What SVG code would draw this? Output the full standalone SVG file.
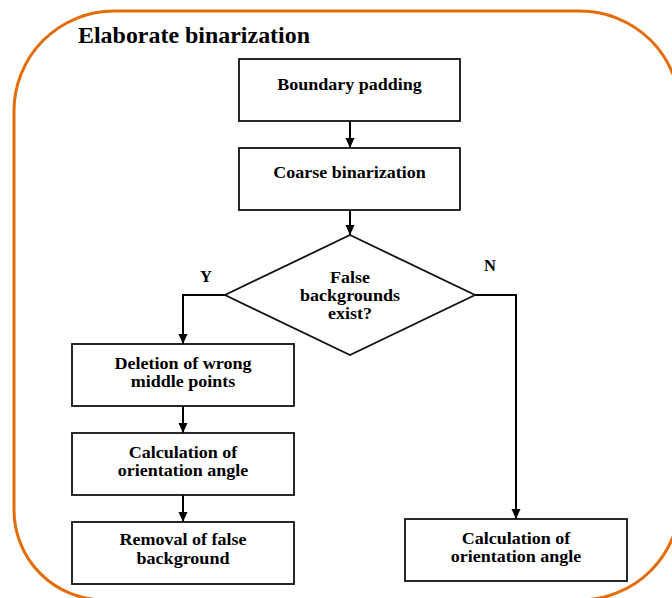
<svg xmlns="http://www.w3.org/2000/svg" width="672" height="598" viewBox="0 0 672 598">
<defs>
<style>
.t{font-family:"Liberation Serif","Times New Roman",serif;font-weight:bold;font-size:16.5px;fill:#000;text-anchor:middle}
.box{fill:#fff;stroke:#111;stroke-width:1.8}
.c{fill:none;stroke:#000;stroke-width:2}
</style>
<marker id="ah" markerUnits="userSpaceOnUse" markerWidth="10" markerHeight="10" refX="10" refY="5" orient="auto">
<path d="M0,0.5 L10,5 L0,9.5 z" fill="#000"/>
</marker>
</defs>
<rect width="672" height="598" fill="#fff"/>
<g id="frame">
<path d="M14,111 A100,100 0 0 1 114,11 H580 A100,100 0 0 1 680,111 V500 A100,100 0 0 1 580,600 H104 A90,90 0 0 1 14,510 Z" fill="none" stroke="#E46C0A" stroke-width="3"/>
<text x="78" y="43" font-family="Liberation Serif,'Times New Roman',serif" font-weight="bold" font-size="22.5" textLength="232" lengthAdjust="spacingAndGlyphs">Elaborate binarization</text>
</g>
<g id="connectors">
<line class="c" x1="350" y1="121" x2="350" y2="148" marker-end="url(#ah)"/>
<line class="c" x1="350" y1="210" x2="350" y2="235" marker-end="url(#ah)"/>
<polyline class="c" points="225,295 183,295 183,344" marker-end="url(#ah)"/>
<polyline class="c" points="475,295 516,295 516,519" marker-end="url(#ah)"/>
<line class="c" x1="183" y1="406" x2="183" y2="433" marker-end="url(#ah)"/>
<line class="c" x1="183" y1="495" x2="183" y2="522" marker-end="url(#ah)"/>
<text class="t" x="206" y="282">Y</text>
<text class="t" x="490" y="271">N</text>
</g>
<g id="boundary-padding">
<rect class="box" x="239" y="59" width="221" height="62"/>
<text class="t" x="349.5" y="90" textLength="144.6" lengthAdjust="spacingAndGlyphs">Boundary padding</text>
</g>
<g id="coarse-binarization">
<rect class="box" x="239" y="148" width="221" height="62"/>
<text class="t" x="349.5" y="178" textLength="152.5" lengthAdjust="spacingAndGlyphs">Coarse binarization</text>
</g>
<g id="decision">
<polygon class="box" points="350,235 475,295 350,355 225,295"/>
<text class="t" x="350" y="283" textLength="40" lengthAdjust="spacingAndGlyphs">False</text>
<text class="t" x="350" y="301" textLength="100" lengthAdjust="spacingAndGlyphs">backgrounds</text>
<text class="t" x="350" y="319" textLength="44" lengthAdjust="spacingAndGlyphs">exist?</text>
</g>
<g id="deletion">
<rect class="box" x="72" y="344" width="222" height="62"/>
<text class="t" x="183" y="369" textLength="137" lengthAdjust="spacingAndGlyphs">Deletion of wrong</text>
<text class="t" x="183" y="387" textLength="104.5" lengthAdjust="spacingAndGlyphs">middle points</text>
</g>
<g id="calc-left">
<rect class="box" x="72" y="433" width="222" height="62"/>
<text class="t" x="183" y="458" textLength="108.5" lengthAdjust="spacingAndGlyphs">Calculation of</text>
<text class="t" x="183" y="476" textLength="130.5" lengthAdjust="spacingAndGlyphs">orientation angle</text>
</g>
<g id="removal">
<rect class="box" x="72" y="522" width="222" height="62"/>
<text class="t" x="183" y="545" textLength="127" lengthAdjust="spacingAndGlyphs">Removal of false</text>
<text class="t" x="183" y="564" textLength="93" lengthAdjust="spacingAndGlyphs">background</text>
</g>
<g id="calc-right">
<rect class="box" x="405" y="519" width="222" height="62"/>
<text class="t" x="516" y="544" textLength="108.5" lengthAdjust="spacingAndGlyphs">Calculation of</text>
<text class="t" x="516" y="562" textLength="130.5" lengthAdjust="spacingAndGlyphs">orientation angle</text>
</g>
</svg>
